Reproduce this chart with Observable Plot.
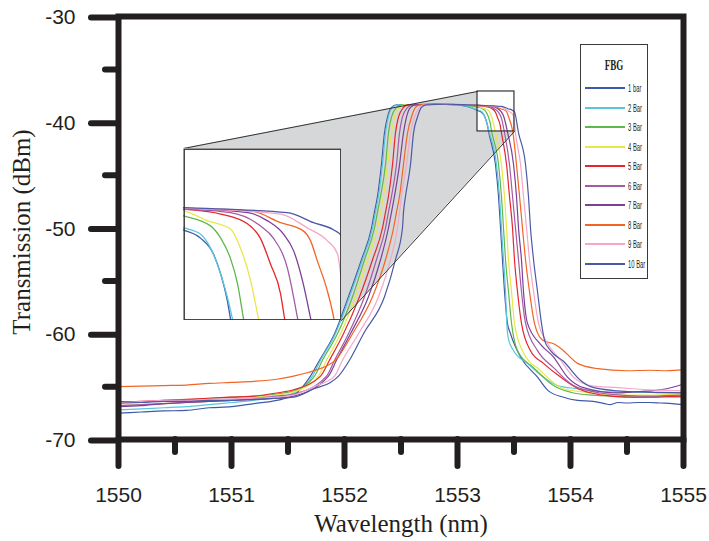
<!DOCTYPE html>
<html><head><meta charset="utf-8">
<script src="https://cdn.jsdelivr.net/npm/d3@7"></script>
<script src="https://cdn.jsdelivr.net/npm/@observablehq/plot@0.6"></script>
<style>
body{margin:0;background:#fff}
#wrap{position:relative;width:709px;height:541px;overflow:hidden}
#wrap svg{position:absolute;left:0;top:0}
#legend{position:absolute;left:580px;top:44px;width:68px;height:235px;border:1.3px solid #3a3a3a;background:#fff;box-sizing:border-box}
#legend .ttl{position:absolute;left:0;width:100%;top:12px;text-align:center;font:bold 15px "Liberation Serif",serif;color:#231f20;transform:scaleX(0.6)}
#legend .sw{position:absolute;left:4px;width:40px;height:2px}
#legend .lb{position:absolute;left:47px;font:10.5px "Liberation Sans",Arial,sans-serif;color:#231f20;transform:scaleX(0.56);transform-origin:left center;white-space:nowrap;line-height:11px}
</style></head><body><div id="wrap"></div>
<script>
const names = ["1 bar","2 Bar","3 Bar","4 Bar","5 Bar","6 Bar","7 Bar","8 Bar","9 Bar","10 Bar"];
const colors = ["#3d5aa9","#5bc5dc","#5eb84a","#e8e64c","#e6262c","#a35ba4","#7d3f98","#f26522","#f4a7c9","#4b59a6"];
const xMajor = [1550,1551,1552,1553,1554,1555];
const xMinor = [1550.5,1551.5,1552.5,1553.5,1554.5];
const yMajor = [-30,-40,-50,-60,-70];
const yMinor = [-35,-45,-55,-65];
const xTitle = "Wavelength (nm)";
const yTitle = "Transmission (dBm)";
const legendTitle = "FBG";
const zoomX = [1553.177, 1553.504];
const zoomY = [-40.87, -37.09];
const insetX = [1550.575, 1551.973];
const insetY = [-58.75, -42.48];

const bar1 = [
[1550,-67.5],[1550.2,-67.4],[1550.4,-67.3],[1550.6,-67.25],[1550.8,-67.0],[1551.0,-66.9],[1551.2,-66.6],[1551.4,-66.3],[1551.55,-65.8],
[1551.699,-64.0],[1551.779,-62.5],[1551.912,-60.0],[1552.035,-56.5],[1552.150,-53.0],[1552.239,-50.0],[1552.265,-48.5],[1552.292,-47.0],[1552.327,-44.0],[1552.354,-41.0],[1552.381,-39.5],[1552.416,-38.6],
[1552.46,-38.35],[1552.8,-38.3],[1553.0,-38.35],[1553.1,-38.55],
[1553.177,-38.88],[1553.212,-39.06],[1553.239,-39.41],[1553.254,-39.85],[1553.268,-40.45],[1553.274,-40.82],
[1553.336,-44.0],[1553.363,-47.0],[1553.381,-50.0],[1553.398,-53.0],[1553.416,-56.0],[1553.442,-59.0],
[1553.469,-60.0],[1553.558,-62.2],[1553.708,-64.1],[1553.805,-65.4],[1553.938,-66.0],[1554.062,-66.3],
[1554.2,-66.4],[1554.3,-66.6],[1554.354,-66.7],[1554.42,-66.5],[1554.5,-66.55],[1554.6,-66.5],[1554.7,-66.5],[1554.8,-66.55],[1554.9,-66.6],[1555,-66.7]];
const bar2 = [
[1550,-67.2],[1550.2,-67.1],[1550.4,-67.0],[1550.6,-66.9],[1550.8,-66.7],[1551.0,-66.5],[1551.2,-66.3],[1551.4,-66.0],[1551.55,-65.6],
[1551.717,-64.0],[1551.788,-62.5],[1551.920,-60.0],[1552.044,-56.5],[1552.159,-53.0],[1552.248,-50.0],[1552.274,-48.5],[1552.301,-47.0],[1552.336,-44.0],[1552.363,-41.0],[1552.389,-39.5],[1552.425,-38.6],
[1552.47,-38.35],[1552.8,-38.3],[1553.0,-38.35],[1553.1,-38.52],
[1553.177,-38.83],[1553.212,-38.97],[1553.233,-39.28],[1553.254,-39.85],[1553.270,-40.45],[1553.278,-40.82],
[1553.345,-44.0],[1553.372,-47.0],[1553.389,-50.0],[1553.407,-53.0],[1553.425,-56.0],[1553.436,-59.0],
[1553.451,-60.5],[1553.496,-61.6],[1553.619,-62.8],[1553.761,-64.1],[1553.885,-64.9],[1554.062,-65.2],
[1554.2,-65.4],[1554.35,-65.5],[1554.5,-65.55],[1554.65,-65.5],[1554.8,-65.6],[1555,-65.6]];
const bar3 = [
[1550,-66.6],[1550.2,-66.5],[1550.4,-66.3],[1550.6,-66.25],[1550.8,-66.1],[1551.0,-66.0],[1551.2,-65.9],[1551.4,-65.7],[1551.55,-65.4],
[1551.735,-64.0],[1551.805,-62.5],[1551.938,-60.0],[1552.071,-56.5],[1552.177,-53.0],[1552.265,-50.0],[1552.292,-48.5],[1552.319,-47.0],[1552.363,-44.0],[1552.389,-41.0],[1552.416,-39.5],[1552.460,-38.6],
[1552.50,-38.35],[1552.8,-38.3],[1553.0,-38.33],[1553.1,-38.42],
[1553.177,-38.57],[1553.233,-38.79],[1553.254,-39.06],[1553.274,-39.50],[1553.289,-40.07],[1553.301,-40.82],
[1553.363,-44.0],[1553.389,-47.0],[1553.407,-50.0],[1553.425,-53.0],[1553.451,-56.0],[1553.478,-59.0],
[1553.531,-61.6],[1553.673,-63.2],[1553.850,-64.9],[1554.027,-65.6],
[1554.2,-65.8],[1554.4,-65.9],[1554.6,-66.0],[1554.8,-65.95],[1555,-66.0]];
const bar4 = [
[1550,-66.8],[1550.2,-66.7],[1550.4,-66.6],[1550.6,-66.5],[1550.8,-66.4],[1551.0,-66.2],[1551.2,-66.0],[1551.4,-65.8],[1551.55,-65.5],
[1551.770,-64.0],[1551.841,-62.5],[1551.965,-60.0],[1552.097,-56.5],[1552.204,-53.0],[1552.292,-50.0],[1552.319,-48.5],[1552.345,-47.0],[1552.381,-44.0],[1552.416,-41.0],[1552.442,-39.5],[1552.487,-38.6],
[1552.53,-38.35],[1552.8,-38.3],[1553.0,-38.32],[1553.1,-38.38],
[1553.177,-38.46],[1553.227,-38.68],[1553.274,-38.86],[1553.295,-39.28],[1553.316,-40.00],[1553.332,-40.82],
[1553.389,-44.0],[1553.416,-47.0],[1553.434,-50.0],[1553.451,-53.0],[1553.478,-56.0],[1553.504,-59.0],
[1553.575,-61.6],[1553.735,-63.5],[1553.938,-65.2],[1554.115,-65.5],
[1554.3,-65.7],[1554.5,-65.8],[1554.7,-65.8],[1554.85,-65.75],[1555,-65.7]];
const bar5 = [
[1550,-66.5],[1550.2,-66.4],[1550.4,-66.3],[1550.6,-66.2],[1550.8,-66.1],[1551.0,-66.0],[1551.2,-65.9],[1551.4,-65.6],[1551.55,-65.3],
[1551.788,-64.0],[1551.867,-62.5],[1551.991,-60.0],[1552.133,-56.5],[1552.248,-53.0],[1552.336,-50.0],[1552.363,-48.5],[1552.389,-47.0],[1552.425,-44.0],[1552.451,-41.0],[1552.478,-39.5],[1552.522,-38.6],
[1552.56,-38.35],[1552.8,-38.3],[1553.0,-38.32],[1553.1,-38.38],
[1553.177,-38.42],[1553.254,-38.53],[1553.310,-38.75],[1553.336,-39.06],[1553.357,-39.63],[1553.378,-40.29],[1553.386,-40.82],
[1553.434,-44.0],[1553.460,-47.0],[1553.487,-50.0],[1553.504,-53.0],[1553.531,-56.0],[1553.566,-59.0],
[1553.646,-61.6],[1553.761,-62.8],[1553.912,-64.1],[1554.088,-65.3],[1554.354,-65.9],
[1554.5,-66.0],[1554.7,-66.0],[1554.85,-65.95],[1555,-65.9]];
const bar6 = [
[1550,-66.8],[1550.2,-66.7],[1550.4,-66.6],[1550.6,-66.5],[1550.8,-66.4],[1551.0,-66.3],[1551.2,-66.1],[1551.4,-65.9],[1551.55,-65.7],
[1551.841,-64.0],[1551.912,-62.5],[1552.035,-60.0],[1552.177,-56.5],[1552.283,-53.0],[1552.363,-50.0],[1552.389,-48.5],[1552.416,-47.0],[1552.460,-44.0],[1552.487,-41.0],[1552.513,-39.5],[1552.558,-38.6],
[1552.60,-38.35],[1552.8,-38.3],[1553.0,-38.32],[1553.1,-38.38],
[1553.177,-38.42],[1553.274,-38.50],[1553.336,-38.79],[1553.363,-39.06],[1553.392,-39.72],[1553.413,-40.82],
[1553.460,-44.0],[1553.487,-47.0],[1553.513,-50.0],[1553.540,-53.0],[1553.566,-56.0],[1553.602,-59.0],
[1553.708,-61.6],[1553.850,-63.2],[1554.027,-64.9],[1554.265,-65.6],
[1554.45,-65.8],[1554.65,-65.9],[1554.85,-65.85],[1555,-65.8]];
const bar7 = [
[1550,-66.9],[1550.2,-66.8],[1550.4,-66.6],[1550.6,-66.5],[1550.8,-66.4],[1551.0,-66.3],[1551.2,-66.2],[1551.4,-66.1],[1551.55,-65.9],
[1551.858,-64.0],[1551.929,-62.5],[1552.053,-60.0],[1552.212,-56.5],[1552.319,-53.0],[1552.389,-50.0],[1552.416,-48.5],[1552.442,-47.0],[1552.487,-44.0],[1552.522,-41.0],[1552.549,-39.5],[1552.584,-38.6],
[1552.625,-38.35],[1552.8,-38.3],[1553.0,-38.32],[1553.1,-38.36],
[1553.177,-38.40],[1553.310,-38.50],[1553.351,-38.68],[1553.384,-38.97],[1553.405,-39.34],[1553.425,-40.07],[1553.440,-40.82],
[1553.496,-44.0],[1553.522,-47.0],[1553.540,-50.0],[1553.566,-53.0],[1553.584,-56.0],[1553.619,-59.0],
[1553.735,-61.0],[1553.850,-62.2],[1553.973,-64.1],[1554.115,-65.1],[1554.416,-65.6],
[1554.55,-65.5],[1554.708,-65.4],[1554.85,-65.2],[1555,-64.75]];
const bar8 = [
[1550,-65.0],[1550.2,-64.95],[1550.4,-64.9],[1550.6,-64.85],[1550.8,-64.7],[1551.0,-64.6],[1551.2,-64.5],[1551.4,-64.3],[1551.55,-64.0],[1551.726,-63.5],
[1551.920,-62.5],[1552.071,-60.0],[1552.248,-56.5],[1552.363,-53.0],[1552.434,-50.0],[1552.460,-48.5],[1552.487,-47.0],[1552.522,-44.0],[1552.558,-41.0],[1552.593,-39.5],[1552.628,-38.6],
[1552.665,-38.35],[1552.85,-38.3],[1553.0,-38.32],[1553.1,-38.35],
[1553.177,-38.40],[1553.316,-38.46],[1553.378,-38.72],[1553.425,-38.90],[1553.440,-39.12],[1553.454,-39.56],[1553.475,-40.23],[1553.488,-40.82],
[1553.522,-44.0],[1553.549,-47.0],[1553.575,-50.0],[1553.602,-53.0],[1553.637,-56.0],[1553.681,-59.0],
[1553.752,-60.6],[1553.86,-61.0],[1553.938,-61.6],[1554.062,-62.8],[1554.24,-63.3],[1554.5,-63.5],
[1554.7,-63.45],[1554.85,-63.5],[1555,-63.4]];
const bar9 = [
[1550,-66.5],[1550.2,-66.4],[1550.4,-66.3],[1550.6,-66.3],[1550.8,-66.2],[1551.0,-66.15],[1551.2,-66.1],[1551.4,-66.0],[1551.55,-65.8],[1551.73,-65.0],
[1551.912,-64.0],[1551.982,-62.5],[1552.124,-60.0],[1552.301,-56.5],[1552.407,-53.0],[1552.469,-50.0],[1552.487,-48.5],[1552.504,-47.0],[1552.549,-44.0],[1552.584,-41.0],[1552.619,-39.5],[1552.664,-38.6],
[1552.70,-38.35],[1552.9,-38.3],[1553.05,-38.33],
[1553.177,-38.40],[1553.378,-38.53],[1553.434,-38.84],[1553.475,-39.12],[1553.496,-39.41],[1553.500,-39.67],
[1553.513,-41.0],[1553.558,-44.0],[1553.584,-47.0],[1553.611,-50.0],[1553.637,-53.0],[1553.673,-56.0],[1553.717,-59.0],
[1553.779,-60.6],[1553.912,-62.5],[1554.027,-64.1],[1554.177,-64.9],[1554.416,-65.1],
[1554.55,-65.2],[1554.7,-65.3],[1554.85,-65.35],[1555,-65.4]];
const bar10 = [
[1550,-66.4],[1550.2,-66.5],[1550.4,-66.4],[1550.6,-66.4],[1550.8,-66.3],[1551.0,-66.3],[1551.2,-66.2],[1551.4,-66.1],[1551.55,-66.0],[1551.73,-65.2],[1551.876,-64.6],
[1551.947,-64.0],[1552.044,-62.5],[1552.168,-60.0],[1552.354,-56.5],[1552.451,-53.0],[1552.513,-50.0],[1552.522,-48.5],[1552.540,-47.0],[1552.584,-44.0],[1552.611,-41.0],[1552.646,-39.5],[1552.681,-38.6],
[1552.72,-38.35],[1552.9,-38.3],[1553.05,-38.33],
[1553.177,-38.39],[1553.392,-38.50],[1553.446,-38.72],[1553.488,-38.88],[1553.504,-39.01],
[1553.540,-41.0],[1553.602,-44.0],[1553.628,-47.0],[1553.646,-50.0],[1553.673,-53.0],[1553.708,-56.0],[1553.743,-59.0],
[1553.77,-60.6],[1553.823,-61.6],[1553.938,-62.6],[1554.088,-64.4],[1554.177,-65.0],[1554.416,-65.4],
[1554.6,-65.5],[1554.8,-65.55],[1555,-65.6]];

const series = [bar1,bar2,bar3,bar4,bar5,bar6,bar7,bar8,bar9,bar10];
const table = series.flatMap((pts, i) => pts.map(([x, y]) => ({x, y, s: names[i]})));
const colorScale = {domain: names, range: colors};

// grey magnification wedge from the zoom box to the inset box
const lerp = (x0, y0, x1, y1, x) => y0 + (y1 - y0) * (x - x0) / (x1 - x0);
const hullXs = [insetX[0], insetX[1], zoomX[0], zoomX[1]];
const hull = hullXs.map(x => ({
  x,
  hi: x <= zoomX[0] ? lerp(insetX[0], insetY[1], zoomX[0], zoomY[1], x) : zoomY[1],
  lo: x <= insetX[1] ? insetY[0] : lerp(insetX[1], insetY[0], zoomX[1], zoomY[0], x)
}));
const connectors = [
  [{x: insetX[0], y: insetY[1]}, {x: zoomX[0], y: zoomY[1]}],
  [{x: insetX[1], y: insetY[0]}, {x: zoomX[1], y: zoomY[0]}]
];
const zoomRect = [{x1: zoomX[0], x2: zoomX[1], y1: zoomY[0], y2: zoomY[1]}];
const ink = "#231f20";

const main = Plot.plot({
  width: 709, height: 541,
  marginLeft: 118, marginRight: 26, marginTop: 16, marginBottom: 102,
  x: {domain: [1550, 1555]},
  y: {domain: [-70, -30]},
  color: colorScale,
  style: {background: "white", fontFamily: "'Liberation Sans', Arial, sans-serif"},
  marks: [
    Plot.areaY(hull, {x: "x", y1: "lo", y2: "hi", fill: "#d6d7d9"}),
    Plot.rect(zoomRect, {x1: "x1", x2: "x2", y1: "y1", y2: "y2", fill: "white"}),
    Plot.line(table, {x: "x", y: "y", z: "s", stroke: "s", strokeWidth: 1.2, curve: "monotone-x"}),
    ...connectors.map(c => Plot.line(c, {x: "x", y: "y", stroke: "#333", strokeWidth: 1})),
    Plot.rect(zoomRect, {x1: "x1", x2: "x2", y1: "y1", y2: "y2", fill: "none", stroke: "#333", strokeWidth: 1.2}),
    Plot.frame({stroke: ink, strokeWidth: 6}),
    Plot.axisY({ticks: yMajor, tickSize: 27, tickPadding: 16, strokeWidth: 6, strokeLinecap: "round", color: ink, fontSize: 21, dy: 1, tickFormat: d => String(d), label: null}),
    Plot.axisY({ticks: yMinor, tickSize: 13, strokeWidth: 6, strokeLinecap: "round", color: ink, tickFormat: () => "", label: null}),
    Plot.axisX({ticks: xMajor, tickSize: 27, tickPadding: 21, strokeWidth: 6, strokeLinecap: "round", color: ink, fontSize: 21, tickFormat: d => String(d), label: null}),
    Plot.axisX({ticks: xMinor, tickSize: 13, strokeWidth: 6, strokeLinecap: "round", color: ink, tickFormat: () => "", label: null}),
    Plot.text([yTitle], {frameAnchor: "left", dx: -97, dy: 4, rotate: -90, text: d => d, fontSize: 25, fontFamily: "'Liberation Serif', 'Times New Roman', serif", fill: ink, textAnchor: "middle", lineAnchor: "middle"}),
    Plot.text([xTitle], {frameAnchor: "bottom", dy: 84, text: d => d, fontSize: 25, fontFamily: "'Liberation Serif', 'Times New Roman', serif", fill: ink, textAnchor: "middle", lineAnchor: "middle"})
  ]
});
const wrap = document.getElementById("wrap");
wrap.appendChild(main);

// inset: same data, magnified view of the zoom box
const sx = main.scale("x"), sy = main.scale("y");
const insetLeft = Math.round(sx.apply(insetX[0])), insetRight = Math.round(sx.apply(insetX[1]));
const insetTop = Math.round(sy.apply(insetY[1])), insetBottom = Math.round(sy.apply(insetY[0]));
const inset = Plot.plot({
  width: insetRight - insetLeft, height: insetBottom - insetTop,
  margin: 0,
  x: {domain: zoomX, axis: null},
  y: {domain: zoomY, axis: null},
  color: colorScale,
  style: {background: "white"},
  marks: [
    Plot.line(table, {x: "x", y: "y", z: "s", stroke: "s", strokeWidth: 1.3, curve: "monotone-x", clip: true}),
    Plot.frame({stroke: "#333", strokeWidth: 1.4, inset: 0.7})
  ]
});
inset.style.left = insetLeft + "px";
inset.style.top = insetTop + "px";
wrap.appendChild(inset);

// legend
const lg = document.createElement("div");
lg.id = "legend";
const lt = document.createElement("div");
lt.className = "ttl"; lt.textContent = legendTitle;
lg.appendChild(lt);
names.forEach((n, i) => {
  const yy = Math.round(42 + 19.55 * i);
  const sw = document.createElement("div");
  sw.className = "sw"; sw.style.top = yy + "px"; sw.style.background = colors[i];
  lg.appendChild(sw);
  const lb = document.createElement("div");
  lb.className = "lb"; lb.style.top = (yy - 4.5) + "px"; lb.textContent = n;
  lg.appendChild(lb);
});
wrap.appendChild(lg);
</script></body></html>
